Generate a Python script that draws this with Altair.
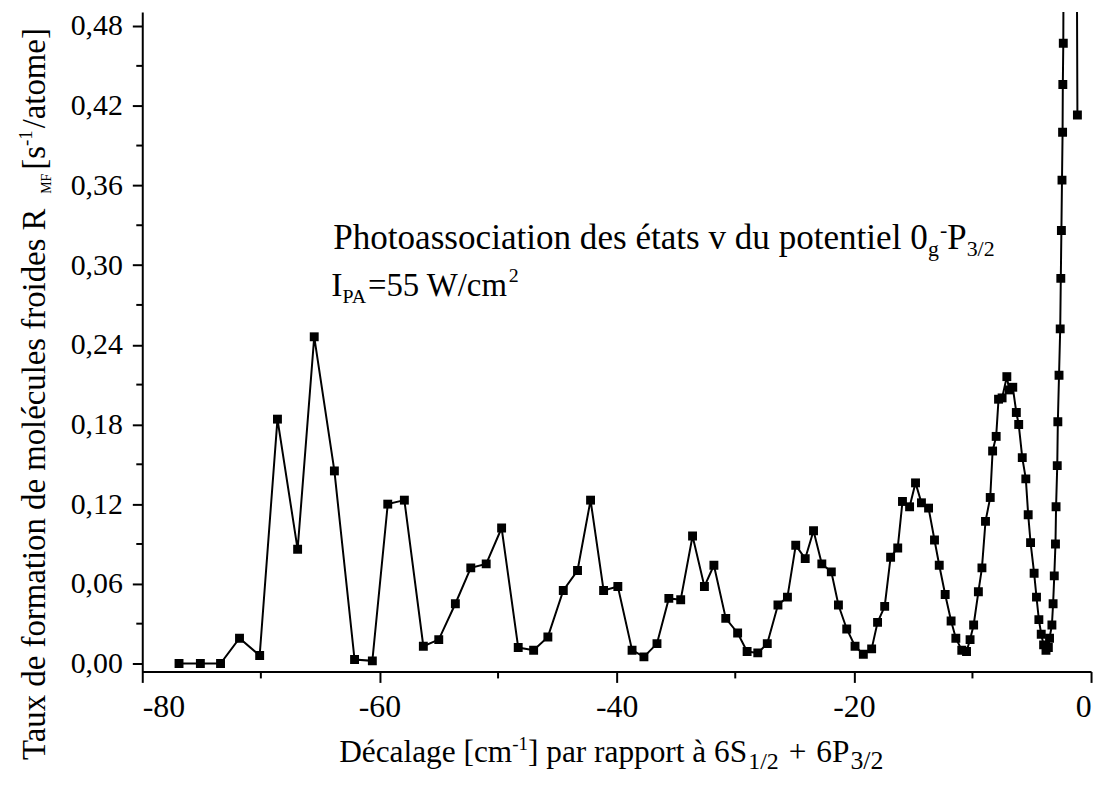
import altair as alt
import pandas as pd

# ---------------- data ----------------
detuning = [-76.9, -75.1, -73.4, -71.8, -70.1, -68.6, -66.9, -65.5, -63.8, -62.1,
            -60.6, -59.3, -57.9, -56.3, -55.0, -53.6, -52.3, -51.0, -49.7, -48.3,
            -47.0, -45.8, -44.5, -43.3, -42.2, -41.1, -39.9, -38.7, -37.7, -36.6,
            -35.6, -34.6, -33.6, -32.6, -31.8, -30.8, -29.8, -29.0, -28.1, -27.3,
            -26.4, -25.6, -24.9, -24.1, -23.4, -22.7, -21.9, -21.3, -20.6, -19.9,
            -19.2, -18.5, -18.0, -17.4, -16.9, -16.3, -15.9, -15.3, -14.8, -14.3,
            -13.7, -13.2, -12.8, -12.3, -11.8, -11.4, -10.9, -10.5, -10.2, -9.9,
            -9.5, -9.2, -8.9, -8.5, -8.3, -8.0, -7.8, -7.5, -7.1, -6.9,
            -6.6, -6.3, -6.1, -5.8, -5.5, -5.3, -5.1, -4.8, -4.6, -4.4,
            -4.2, -4.0, -3.8, -3.6, -3.5, -3.3, -3.2, -3.1, -3.0, -2.95,
            -2.85, -2.8, -2.7, -2.6, -2.55, -2.5, -2.45, -2.4, -2.38, -2.34,
            -1.8, -1.15]
rate = [0.000, 0.000, 0.000, 0.019, 0.006, 0.184, 0.086, 0.246, 0.145, 0.003,
        0.002, 0.120, 0.123, 0.013, 0.018, 0.045, 0.072, 0.075, 0.102, 0.012,
        0.010, 0.020, 0.055, 0.070, 0.123, 0.055, 0.058, 0.010, 0.005, 0.015,
        0.049, 0.048, 0.096, 0.058, 0.074, 0.034, 0.023, 0.009, 0.008, 0.015,
        0.044, 0.050, 0.089, 0.079, 0.100, 0.075, 0.069, 0.044, 0.026, 0.013,
        0.007, 0.011, 0.031, 0.043, 0.080, 0.087, 0.122, 0.118, 0.136, 0.121,
        0.117, 0.093, 0.074, 0.052, 0.032, 0.019, 0.010, 0.009, 0.018, 0.029,
        0.054, 0.072, 0.107, 0.125, 0.160, 0.171, 0.199, 0.200, 0.216, 0.206,
        0.208, 0.189, 0.180, 0.155, 0.139, 0.112, 0.091, 0.068, 0.050, 0.033,
        0.022, 0.014, 0.010, 0.012, 0.019, 0.029, 0.045, 0.066, 0.090, 0.118,
        0.149, 0.182, 0.217, 0.252, 0.290, 0.326, 0.364, 0.400, 0.436, 0.467,
        2.000, 0.413]

x_major = [-80, -60, -40, -20, 0]
x_minor = [-70, -50, -30, -10]
y_major = [0.00, 0.06, 0.12, 0.18, 0.24, 0.30, 0.36, 0.42, 0.48]
y_minor = [0.03, 0.09, 0.15, 0.21, 0.27, 0.33, 0.39, 0.45]

df = pd.DataFrame({"i": list(range(len(detuning))), "x": detuning, "y": rate})

# ---------------- layout ----------------
W, H = 954, 663
PAD_L, PAD_T = 135, 2
OX, OY = PAD_L + 8, PAD_T + 8   # plot origin on page
FONT = "'Liberation Serif', 'Times New Roman', Times, serif"

# Times / Liberation Serif advance widths (1/1000 em)
AW = {" ": 250, "+": 564, ",": 250, "-": 333, "/": 278, "=": 564, "[": 333, "]": 333,
      "A": 722, "D": 722, "F": 556, "I": 333, "M": 889, "P": 556, "R": 667, "S": 556,
      "T": 611, "W": 944, "a": 444, "c": 444, "d": 500, "e": 444, "f": 333, "g": 500,
      "h": 500, "i": 278, "l": 278, "m": 778, "n": 500, "o": 500, "p": 500, "r": 333,
      "s": 389, "t": 278, "u": 500, "v": 500, "x": 500, "é": 444, "à": 444}


def tw(s, fs):
    return sum(AW.get(c, 500) for c in s) * fs / 1000.0


def text_layers(start, base, parts, angle=None):
    """parts: (text, fontSize, baseline shift, gap before) ; start/base in page px."""
    layers = []
    one = pd.DataFrame({"k": [0]})
    cum = 0.0
    for s, fs, dy, gap in parts:
        cum += gap
        if angle is None:
            px, py = start + cum - OX, base + dy - OY
        else:
            px, py = base + dy - OX, start - cum - OY
        kw = dict(align="left", baseline="alphabetic", font=FONT, fontSize=fs, color="black")
        if angle is not None:
            kw["angle"] = angle
        layers.append(
            alt.Chart(one).mark_text(**kw).encode(
                x=alt.value(px), y=alt.value(py), text=alt.value(s)
            )
        )
        cum += tw(s, fs)
    return layers


xs = alt.Scale(domain=[-80, 0], nice=False, zero=False)
ys = alt.Scale(domain=[-0.006, 0.4905], nice=False, zero=False)

axis_common = dict(domainColor="black", domainWidth=2, tickColor="black", tickWidth=2,
                   labelFont=FONT, labelColor="black", grid=False, title=None)

line = alt.Chart(df).mark_line(color="black", strokeWidth=2, clip=True).encode(
    x=alt.X("x:Q", scale=xs,
            axis=alt.Axis(values=x_major, tickSize=11, labelFontSize=32, labelPadding=9,
                          labelExpr="'' + datum.value", **axis_common)),
    y=alt.Y("y:Q", scale=ys,
            axis=alt.Axis(values=y_major, tickSize=10, labelFontSize=30, labelPadding=10,
                          labelExpr="replace(format(datum.value, '.2f'), '.', ',')",
                          **axis_common)),
    order="i:Q",
)
pts = alt.Chart(df).mark_point(shape="square", filled=True, size=80, color="black",
                               opacity=1, clip=True).encode(
    x=alt.X("x:Q", scale=xs), y=alt.Y("y:Q", scale=ys))

xminor = alt.Chart(pd.DataFrame({"v": x_minor})).mark_rule(color="black", strokeWidth=2).encode(
    x=alt.X("v:Q", scale=xs), y=alt.value(H), y2=alt.value(H + 7))
yminor = alt.Chart(pd.DataFrame({"v": y_minor})).mark_rule(color="black", strokeWidth=2).encode(
    y=alt.Y("v:Q", scale=ys), x=alt.value(-6), x2=alt.value(0))

texts = []
texts += text_layers(335, 248, [("Photoassociation des états v du potentiel 0", 35.3, 0, 0),
                                ("g", 22, 7, 0), ("-", 22, -12, 1), ("P", 35, 0, 0),
                                ("3/2", 22, 7, 0)])
texts += text_layers(333, 295, [("I", 34, 0, 0), ("PA", 20, 8, 0),
                                ("=55 W/cm", 33, 0, 0), ("2", 20, -14, 1)])
texts += text_layers(341, 764, [("Décalage [cm", 31.5, 0, 0), ("-1", 19, -12, 0),
                                ("] par rapport à 6S", 31.5, 0, 0), ("1/2", 24, 7, 1),
                                ("+", 31.5, 0, 10), ("6P", 31.5, 0, 10), ("3/2", 26, 7, 1)])
texts += text_layers(762, 45, [("Taux de formation de molécules froides R", 33, 0, 0),
                               ("MF", 14, 6, 12), ("[s", 33, 0, 4), ("-1", 19, -13, 0),
                               ("/atome]", 33, 0, 2)], angle=270)

chart = alt.layer(line, pts, xminor, yminor, *texts).properties(
    width=W, height=H,
    autosize=alt.AutoSizeParams(type="none"),
    padding={"left": PAD_L, "top": PAD_T, "right": 9, "bottom": 103},
    background="white",
).configure_view(stroke=None)

chart.save("out.html", embed_options={"renderer": "svg", "actions": False})
